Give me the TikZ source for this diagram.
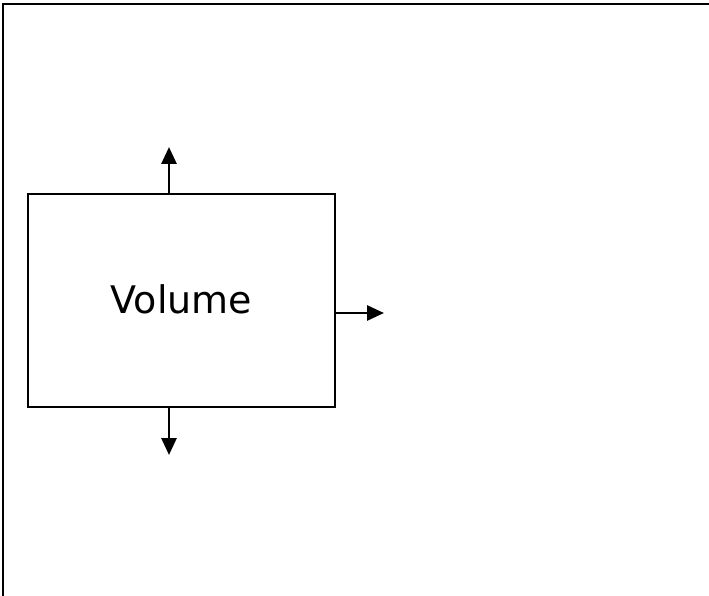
\documentclass[tikz,border=0pt]{standalone}
\usepackage{fontspec}
\setmainfont{DejaVu Sans}
\usepackage{tikz}
\usetikzlibrary{arrows.meta,positioning}
\tikzset{
  ar/.style={-{Triangle[length=17pt,width=15pt]},line width=1mm},
  vol/.style={draw,line width=1mm,minimum width=307pt,minimum height=213pt,inner sep=0pt,font=\fontsize{38}{42}\selectfont},
  frame/.style={line width=2.6pt}
}
\begin{document}
\begin{tikzpicture}[x=1pt,y=-1pt]
\useasboundingbox (0,0) rectangle (709,596);
% outer frame, top and left only
\draw[frame] (709,4) -- (3,4) -- (3,596);
\node[vol] (V) at (181.5,300.5) {\raisebox{3pt}{Volume}};
\coordinate (up) at (169,147);
\coordinate (rt) at (384,313);
\coordinate (dn) at (169,455);
\draw[ar] (V.north -| up) -- (up);
\draw[ar] (V.east |- rt) -- (rt);
\draw[ar] (V.south -| dn) -- (dn);
\end{tikzpicture}
\end{document}
